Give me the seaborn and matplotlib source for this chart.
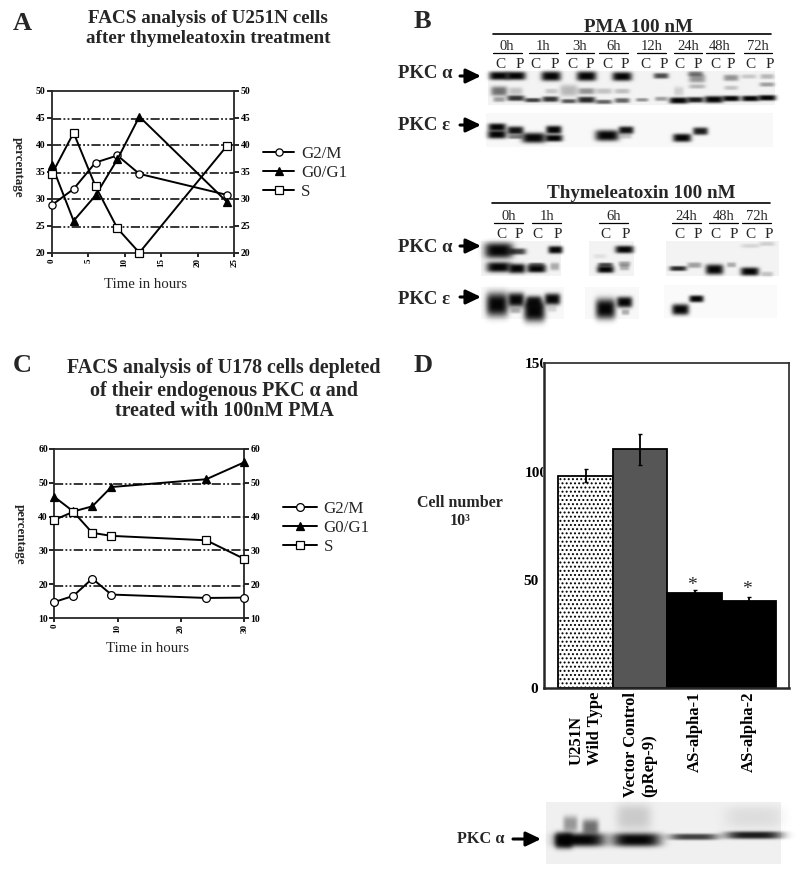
import numpy as np
import pandas as pd
import matplotlib
matplotlib.use("Agg")
import matplotlib.pyplot as plt
from matplotlib.transforms import Bbox, TransformedBbox
import seaborn as sns

# Panel A
hours_a = [0, 3, 6, 9, 12, 24]
g2m_a = [28.8, 31.8, 36.7, 38.0, 34.6, 30.7]
g0g1_a = [36.3, 25.9, 30.6, 37.3, 45.2, 29.4]
s_a = [34.5, 42.2, 32.3, 24.5, 20.0, 39.8]
grid_a = [44.85, 39.95, 34.85, 29.9, 24.8]

# Panel C
hours_c = [0, 3, 6, 9, 24, 30]
g2m_c = [14.8, 16.6, 21.7, 17.0, 16.0, 16.1]
g0g1_c = [45.8, 41.5, 43.0, 48.7, 51.0, 56.0]
s_c = [39.0, 41.4, 35.2, 34.3, 33.0, 27.5]
grid_c = [49.7, 40.0, 30.0, 19.6]

# Panel D
groups_d = ["U251N\nWild Type", "Vector Control\n(pRep-9)", "AS-alpha-1", "AS-alpha-2"]
cells_d = [98.1, 110.3, 43.8, 40.3]
err_d = [3.0, 7.2, 1.6, 2.0]
colors_d = ["white", "#565656", "black", "black"]

# Blots: (x, y, half width, half height, ink) in 3x crop coordinates
pma_alpha = [(296, 226, 27, 9, 1), (346, 226, 27, 9, 1), (452, 227, 27, 11, 1), (558, 227, 27, 11, 1),
             (665, 228, 27, 10, 1), (782, 226, 20, 5, .7), (885, 220, 20, 4, .5), (890, 234, 22, 9, .4),
             (992, 232, 20, 6, .4), (1045, 228, 20, 3, .18), (1100, 228, 18, 4, .25),
             (296, 272, 22, 11, .55), (346, 272, 18, 8, .2), (505, 270, 24, 14, .25), (558, 272, 22, 6, .4),
             (610, 272, 22, 5, .2), (665, 272, 20, 4, .22), (453, 272, 16, 4, .18), (835, 272, 12, 10, .15),
             (890, 258, 22, 3, .25), (992, 262, 18, 3, .2), (1100, 252, 20, 3, .35),
             (296, 297, 15, 4, .35), (346, 293, 24, 5, .8), (397, 299, 22, 3, .75), (450, 296, 22, 5, .8),
             (505, 302, 20, 3, .65), (558, 298, 24, 6, .85), (610, 304, 22, 3, .6), (665, 300, 20, 4, .6),
             (725, 298, 16, 2, .4), (782, 295, 16, 3, .35), (835, 300, 26, 6, 1), (885, 298, 22, 5, .9),
             (940, 297, 26, 7, 1), (992, 294, 24, 5, 1), (1050, 294, 24, 5, 1), (1100, 292, 24, 5, 1)]
pma_eps = [(290, 380, 24, 8, 1), (290, 402, 26, 9, 1), (345, 390, 22, 9, .95), (345, 409, 20, 3, .5),
           (400, 412, 33, 12, 1), (460, 388, 21, 9, 1), (460, 413, 24, 7, 1), (620, 405, 33, 13, 1),
           (677, 389, 20, 8, .95), (677, 407, 14, 4, .2), (845, 412, 25, 9, 1), (900, 392, 20, 8, .9)]
thy_alpha = [(295, 240, 40, 20, 1), (350, 243, 24, 6, .75), (465, 238, 19, 8, 1), (295, 290, 34, 12, 1),
             (350, 294, 22, 11, 1), (408, 295, 26, 8, 1), (408, 283, 22, 3, .6), (463, 288, 11, 8, .3),
             (615, 297, 23, 7, 1), (615, 283, 20, 3, .7), (672, 237, 25, 8, 1), (672, 280, 15, 4, .35),
             (672, 291, 12, 5, .3), (833, 294, 23, 4, .85), (882, 284, 19, 5, .35), (942, 297, 24, 12, 1),
             (993, 283, 11, 4, .3), (1048, 303, 25, 9, 1), (1100, 311, 15, 4, .2),
             (1050, 226, 25, 3, .12), (1100, 220, 20, 3, .15), (598, 257, 16, 3, .08)]
thy_eps = [(290, 402, 30, 32, 1), (347, 388, 22, 18, 1), (345, 420, 13, 5, .3), (402, 422, 29, 28, 1),
           (400, 395, 21, 15, .95), (456, 386, 21, 14, 1), (455, 415, 11, 6, .15), (615, 415, 27, 27, 1),
           (672, 395, 21, 13, 1), (675, 425, 9, 5, .3), (840, 417, 23, 13, 1), (888, 385, 19, 7, 1)]
d_alpha = [(480, 418, 72, 17, 1), (430, 420, 24, 20, 1), (450, 370, 19, 20, .38), (510, 380, 22, 20, .55),
           (648, 418, 70, 17, 1), (640, 350, 50, 36, .16), (820, 409, 70, 6, .75), (1000, 404, 82, 8, .9),
           (1000, 350, 85, 30, .08)]


def paint_rect(img, rect, ox, oy, shade):
    x0, x1, y0, y1 = rect
    a, b = int(ox + x0 / 3), int(ox + x1 / 3)
    c, d = int(oy + y0 / 3), int(oy + y1 / 3)
    img[c:d, a:b] = np.minimum(img[c:d, a:b], shade)


def paint_bands(img, bands, ox, oy):
    yy, xx = np.mgrid[0:img.shape[0], 0:img.shape[1]]
    for x, y, w, h, ink in bands:
        dx = (xx - (ox + x / 3)) / (w / 3 + 1)
        dy = (yy - (oy + y / 3)) / (h / 3 + 1.2)
        blob = ink * np.exp(-(np.abs(dx) ** 4 + np.abs(dy) ** 3))
        img *= 1 - 0.98 * blob


def to_fig(x0, y0, x1, y1):
    return [x0 / 800, 1 - y1 / 875, (x1 - x0) / 800, (y1 - y0) / 875]


def time_course(fig, rect, hours, series, grid, xlim, ylim, xticks, yticks, legend_at, handle, sizes):
    ax = fig.add_axes(to_fig(*rect), facecolor="none", zorder=2)
    for g in grid:
        ax.axhline(g, color="black", lw=1.1, ls=(0, (6, 1.5, 1.2, 1.5, 1.2, 1.5)), zorder=1)
    styles = [("G2/M", "o", "white"), ("G0/G1", "^", "black"), ("S", "s", "white")]
    for (name, marker, face), size, vals in zip(styles, sizes, series):
        sns.lineplot(x=hours, y=vals, sort=False, errorbar=None, ax=ax, label=name, color="black", lw=1.4,
                     marker=marker, markersize=size, markerfacecolor=face, markeredgecolor="black",
                     markeredgewidth=0.9, clip_on=False, zorder=3)
    ax.set_xlim(*xlim)
    ax.set_ylim(*ylim)
    ax.set_xticks(xticks)
    ax.set_yticks(yticks)
    ax.tick_params(axis="x", length=3, width=1.2, pad=1, labelsize=6.5, labelrotation=90)
    ax.tick_params(axis="y", length=3.6, width=1.2, pad=1, labelsize=7, right=True, labelright=True)
    for tick in ax.xaxis.get_major_ticks():
        tick.label1.set_fontweight("bold")
    for tick in ax.yaxis.get_major_ticks():
        tick.label1.set_fontweight("bold")
        tick.label2.set_fontweight("bold")
    for side in ax.spines.values():
        side.set_linewidth(1.3)
    ax.set_xlabel("")
    ax.set_ylabel("")
    ax.legend(loc="upper left", bbox_to_anchor=(legend_at[0] / 800, 1 - legend_at[1] / 875),
              bbox_transform=fig.transFigure, frameon=False, fontsize=12.2, borderpad=0, borderaxespad=0,
              handlelength=handle, handletextpad=0.4, labelspacing=0.17)
    return ax


sns.set_theme(style="ticks")
plt.rcParams["font.family"] = ["Liberation Serif", "DejaVu Serif"]
plt.rcParams["xtick.color"] = "black"
plt.rcParams["ytick.color"] = "black"
plt.rcParams["hatch.linewidth"] = 0.9

fig = plt.figure(figsize=(8, 8.75), dpi=100)

# background layer, pixel coordinates
bg = fig.add_axes([0, 0, 1, 1], zorder=0)
img = np.ones((875, 800))
paint_rect(img, (265, 1125, 215, 317), 400, 0, 0.95)
paint_rect(img, (260, 1120, 340, 442), 400, 0, 0.97)
paint_rect(img, (245, 485, 215, 320), 400, 170, 0.95)
paint_rect(img, (568, 703, 215, 320), 400, 170, 0.95)
paint_rect(img, (798, 1138, 215, 320), 400, 170, 0.95)
paint_rect(img, (245, 493, 352, 448), 400, 170, 0.97)
paint_rect(img, (555, 718, 352, 448), 400, 170, 0.97)
paint_rect(img, (793, 1133, 345, 445), 400, 170, 0.98)
paint_rect(img, (378, 1085, 308, 492), 420, 700, 0.94)
paint_bands(img, pma_alpha, 400, 0)
paint_bands(img, pma_eps, 400, 0)
paint_bands(img, thy_alpha, 400, 170)
paint_bands(img, thy_eps, 400, 170)
paint_bands(img, d_alpha, 420, 700)
bg.imshow(img, cmap="gray", vmin=0, vmax=1, extent=(0, 800, 875, 0), aspect="auto", interpolation="bilinear")
bg.set_xlim(0, 800)
bg.set_ylim(875, 0)
bg.axis("off")

# panel letters
for letter, x, y in [("A", 22, 23), ("B", 422, 22), ("C", 22, 366), ("D", 423, 365)]:
    bg.text(x, y, letter, fontsize=19, fontweight="bold", ha="center", va="center")

# titles
for line, x, y, size in [("FACS analysis of U251N cells", 208, 18.5, 13.8), ("after thymeleatoxin treatment", 208, 38.5, 13.8),
                         ("FACS analysis of U178 cells depleted", 224, 368, 14.4), ("of their endogenous PKC α and", 224, 391, 14.4),
                         ("treated with 100nM PMA", 224, 411, 14.4)]:
    bg.text(x, y, line, fontsize=size, fontweight="bold", ha="center", va="center")

# panel A
ax_a = time_course(fig, (51.7, 90.7, 234.3, 252.7), hours_a, [g2m_a, g0g1_a, s_a], grid_a, (0, 25), (20, 50),
                   [0, 5, 10, 15, 20, 25], [20, 25, 30, 35, 40, 45, 50], (263, 146), 1.85, [5.2, 5.6, 5.4])
bg.text(146, 284, "Time in hours", fontsize=10.7, ha="center", va="center")
bg.text(18, 167, "percentage", fontsize=9.4, fontweight="bold", rotation=270, ha="center", va="center")

# panel C
ax_c = time_course(fig, (54.3, 448.7, 244.3, 618.3), hours_c, [g2m_c, g0g1_c, s_c], grid_c, (0, 30), (10, 60),
                   [0, 10, 20, 30], [10, 20, 30, 40, 50, 60], (283, 501), 2.0, [5.6, 5.8, 5.2])
bg.text(147, 648, "Time in hours", fontsize=10.7, ha="center", va="center")
bg.text(20, 534, "percentage", fontsize=9.4, fontweight="bold", rotation=270, ha="center", va="center")

# panel B text
bg.text(638, 27, "PMA 100 nM", fontsize=13.7, fontweight="bold", ha="center", va="center")
bg.plot([493, 771], [34, 34], color="black", lw=1.2)
for label, a, b in [("0h", 278, 365), ("1h", 387, 473), ("3h", 497, 583), ("6h", 597, 683),
                    ("12h", 712, 798), ("24h", 822, 907), ("48h", 917, 1003), ("72h", 1032, 1117)]:
    bg.text(400 + (a + b) / 6, 47, label, fontsize=10.5, ha="center", va="center")
    bg.plot([400 + a / 3, 400 + b / 3], [52.5, 52.5], color="black", lw=0.9)
for label, x in zip("CPCPCPCPCPCPCPCP", [302, 358, 407, 465, 517, 568, 622, 675, 735, 790, 838, 893, 945, 992, 1050, 1110]):
    bg.text(400 + x / 3, 64, label, fontsize=11, ha="center", va="center")

bg.text(641, 193, "Thymeleatoxin 100 nM", fontsize=13.7, fontweight="bold", ha="center", va="center")
bg.plot([492, 770], [203, 203], color="black", lw=1.2)
for label, a, b in [("0h", 283, 370), ("1h", 397, 483), ("6h", 598, 685), ("24h", 817, 903),
                    ("48h", 928, 1013), ("72h", 1027, 1113)]:
    bg.text(400 + (a + b) / 6, 217, label, fontsize=10.5, ha="center", va="center")
    bg.plot([400 + a / 3, 400 + b / 3], [222.5, 222.5], color="black", lw=0.9)
for label, x in zip("CPCPCPCPCPCP", [303, 355, 413, 472, 615, 678, 838, 892, 945, 1000, 1052, 1105]):
    bg.text(400 + x / 3, 235, label, fontsize=11, ha="center", va="center")

# blot labels with arrows
arrow_kw = dict(arrowstyle="-|>,head_length=0.75,head_width=0.36", color="black", lw=2.2, shrinkA=0, shrinkB=0)
for name, y_text, y_arrow in [("PKC α", 74, 76), ("PKC ε", 126, 125), ("PKC α", 248, 246), ("PKC ε", 300, 297)]:
    bg.text(398, y_text, name, fontsize=13.5, fontweight="bold", ha="left", va="center")
    bg.annotate("", xy=(481, y_arrow), xytext=(460, y_arrow), arrowprops=arrow_kw)
bg.text(457, 839, "PKC α", fontsize=11.7, fontweight="bold", ha="left", va="center")
bg.annotate("", xy=(541, 839), xytext=(513, 839), arrowprops=arrow_kw)

# panel D
ax_d = fig.add_axes(to_fig(544, 363.3, 789.3, 688.3), facecolor="none", zorder=2)
sns.barplot(x=groups_d, y=cells_d, hue=groups_d, palette=colors_d, width=1.0, edgecolor="black", linewidth=1.3,
            legend=False, errorbar=None, ax=ax_d)
ax_d.patches[0].set_hatch("....")
ax_d.errorbar(range(4), cells_d, yerr=err_d, fmt="none", ecolor="black", elinewidth=1.3, capsize=1.5, capthick=1)
ax_d.set_xlim(-0.762, 3.738)
ax_d.set_ylim(0, 150)
ax_d.set_yticks([0, 50, 100, 150])
ax_d.tick_params(axis="y", length=0, pad=4, labelsize=11)
ax_d.tick_params(axis="x", length=0, pad=2.5, labelsize=12)
for lab in ax_d.get_xticklabels():
    lab.set_rotation(90)
    lab.set_ha("center")
    lab.set_va("top")
    lab.set_multialignment("left")
    lab.set_fontweight("bold")
clip = TransformedBbox(Bbox([[0, 0], [543 / 800, 1]]), fig.transFigure)
for lab, shift in zip(ax_d.get_yticklabels(), [0, 0, 0.036, 0.036]):
    lab.set_fontweight("bold")
    lab.set_x(shift)
    lab.set_clip_on(True)
    lab.set_clip_box(clip)
ax_d.set_ylabel("")
ax_d.spines["left"].set_linewidth(1.8)
ax_d.spines["bottom"].set_linewidth(1.8)
ax_d.spines["top"].set_linewidth(1.2)
ax_d.spines["right"].set_linewidth(1.2)
bg.text(460, 503, "Cell number", fontsize=11.5, fontweight="bold", ha="center", va="center")
bg.text(460, 521, "10³", fontsize=11.5, fontweight="bold", ha="center", va="center")
bg.text(692, 585, "*", fontsize=14, ha="center", va="center")
bg.text(747, 589, "*", fontsize=14, ha="center", va="center")

fig.savefig("out.png", dpi=100)
